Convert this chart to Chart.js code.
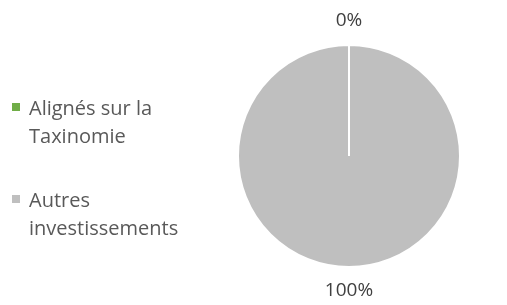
<!DOCTYPE html>
<html lang="fr">
<head>
  <meta charset="UTF-8" />
  <title>Taxinomie</title>
  <script src="https://cdn.jsdelivr.net/npm/chart.js"></script>
  <style>
    body { margin: 0; background: #fff; font-family: 'Open Sans', sans-serif; }
    #wrap { position: relative; width: 507px; height: 305px; }
    #legend { position: absolute; left: 12px; top: 94px; width: 200px; color: #595959; font-size: 20px; line-height: 28px; }
    .item { display: flex; align-items: flex-start; margin-bottom: 36px; }
    .box { width: 8px; height: 8px; margin: 9px 9px 0 0; flex: none; }
  </style>
</head>
<body>
  <div id="wrap">
    <canvas id="chart" width="507" height="305"></canvas>
    <div id="legend"></div>
  </div>

  <script>
    const categories = ['Alignés sur la Taxinomie', 'Autres investissements'];
    const values = [0, 100];
    const colors = ['#70AD47', '#BFBFBF'];
    const valueLabels = ['0%', '100%'];

    // legend in html so the text wraps like the original
    const legend = document.getElementById('legend');
    categories.forEach((c, i) => {
      legend.innerHTML += '<div class="item"><span class="box" style="background:' + colors[i] + '"></span><span style="width:150px">' + c + '</span></div>';
    });

    const outsideLabels = {
      id: 'outsideLabels',
      afterDraw(chart) {
        const ctx = chart.ctx;
        const meta = chart.getDatasetMeta(0);
        ctx.save();
        ctx.font = '19px "Open Sans"';
        ctx.fillStyle = '#404040';
        ctx.textAlign = 'center';
        ctx.textBaseline = 'middle';
        meta.data.forEach((arc, i) => {
          const mid = (arc.startAngle + arc.endAngle) / 2;
          const r = arc.outerRadius + 24;
          ctx.fillText(valueLabels[i], arc.x + Math.cos(mid) * r, arc.y + Math.sin(mid) * r);
        });
        ctx.restore();
      }
    };

    new Chart(document.getElementById('chart'), {
      type: 'pie',
      data: {
        labels: categories,
        datasets: [{ data: values, backgroundColor: colors, borderColor: '#fff', borderWidth: 2 }]
      },
      options: {
        responsive: false,
        animation: false,
        layout: { padding: { left: 237, right: 46, top: 44, bottom: 37 } },
        plugins: { legend: { display: false }, tooltip: { enabled: false } }
      },
      plugins: [outsideLabels]
    });
  </script>
</body>
</html>
